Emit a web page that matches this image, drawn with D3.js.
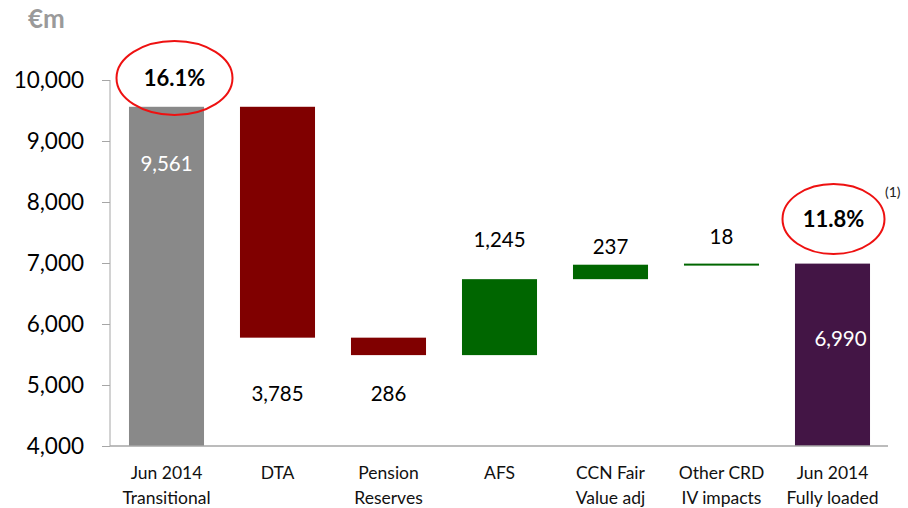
<!DOCTYPE html>
<html>
<head>
<meta charset="utf-8">
<script src="https://cdn.jsdelivr.net/npm/d3@7"></script>
<style>
  body { margin: 0; background: #fff; }
  svg { display: block; font-family: Lato, "Open Sans", sans-serif; }
</style>
</head>
<body>
<script>
// waterfall: transitional -> fully loaded CET1
var categories = [["Jun 2014", "Transitional"], ["DTA"], ["Pension", "Reserves"], ["AFS"],
                  ["CCN Fair", "Value adj"], ["Other CRD", "IV impacts"], ["Jun 2014", "Fully loaded"]];
var changes = [9561, -3785, -286, 1245, 237, 18, 6990];
var kinds = ["total", "step", "step", "step", "step", "step", "total"];
var valueLabels = ["9,561", "3,785", "286", "1,245", "237", "18", "6,990"];
var ratios = ["16.1%", null, null, null, null, null, "11.8%"];
var yTicks = [4000, 5000, 6000, 7000, 8000, 9000, 10000];
var colors = ["#898989", "#800000", "#800000", "#006600", "#006600", "#006600", "#431545"];

var W = 908, H = 508;
var svg = d3.select("body").append("svg").attr("width", W).attr("height", H);

// running totals
var rows = [];
var run = 0;
changes.forEach(function(v, i) {
  var lo, hi;
  if (kinds[i] == "total") { lo = 4000; hi = v; run = v; }
  else { var next = run + v; lo = Math.min(run, next); hi = Math.max(run, next); run = next; }
  rows.push({ i: i, lo: lo, hi: hi, v: v });
});

var x = d3.scaleBand().domain(d3.range(categories.length)).range([111, 888])
  .paddingInner(0.324).paddingOuter(0.162);
var y = d3.scaleLinear().domain([4000, 10000]).range([446, 80]);

// y axis
var yAxis = svg.append("g").attr("transform", "translate(110,0)")
  .call(d3.axisLeft(y).tickValues(yTicks).tickSize(8).tickPadding(18).tickFormat(d3.format(",")));
yAxis.select(".domain").attr("stroke", "#a6a6a6").attr("d", "M0," + y(10000) + "V" + y(4000));
yAxis.selectAll(".tick line").attr("stroke", "#a6a6a6");
yAxis.selectAll(".tick text").attr("font-size", 22.5).attr("fill", "#000").attr("font-family", "Lato");

// bars
svg.selectAll("rect.bar").data(rows).enter().append("rect")
  .attr("class", "bar")
  .attr("x", d => x(d.i))
  .attr("width", x.bandwidth())
  .attr("y", d => y(d.hi))
  .attr("height", d => Math.max(2, y(d.lo) - y(d.hi)))
  .attr("fill", d => colors[d.i]);

// baseline
svg.append("line").attr("x1", 110).attr("x2", 888).attr("y1", y(4000)).attr("y2", y(4000))
  .attr("stroke", "#a6a6a6").attr("stroke-width", 1.5);

// value labels (excel put them a bit unevenly)
var upNudge = { 3: 32, 4: 11, 5: 20 };
svg.selectAll("text.val").data(rows).enter().append("text")
  .attr("class", "val")
  .attr("text-anchor", "middle")
  .attr("font-size", 20.5)
  .attr("x", d => x(d.i) + x.bandwidth() / 2 + (d.i == 6 ? 8 : 0))
  .attr("y", d => {
    if (kinds[d.i] == "total") return d.i == 0 ? y(9000) + 30 : y(6000) + 22;
    if (d.v < 0) return y(4870) + 8;
    return y(d.hi) - upNudge[d.i];
  })
  .attr("fill", d => kinds[d.i] == "total" ? "#fff" : "#000")
  .text(d => valueLabels[d.i]);

// category labels
var cat = svg.selectAll("g.cat").data(categories).enter().append("g")
  .attr("class", "cat")
  .attr("transform", (d, i) => "translate(" + (x(i) + x.bandwidth() / 2) + ",0)");
cat.selectAll("text").data(d => d).enter().append("text")
  .attr("text-anchor", "middle").attr("font-size", 17.5).attr("fill", "#111")
  .attr("y", (d, j) => 479 + j * 25)
  .text(d => d);

// ratio bubbles
var rb = rows.filter(d => ratios[d.i]);
var bub = svg.selectAll("g.bub").data(rb).enter().append("g")
  .attr("transform", d => d.i == 0
    ? "translate(" + (x(d.i) + x.bandwidth() / 2 + 8) + ",78)"
    : "translate(" + (x(d.i) + x.bandwidth() / 2 + 1) + ",219)");
bub.append("ellipse").attr("rx", d => d.i == 0 ? 58 : 51).attr("ry", d => d.i == 0 ? 37 : 35)
  .attr("fill", "none").attr("stroke", "#ee1111").attr("stroke-width", 2);
bub.append("text").attr("text-anchor", "middle").attr("y", 8).attr("font-size", 22)
  .attr("font-weight", "bold").attr("fill", "#000").text(d => ratios[d.i]);

// footnote and unit
svg.append("text").attr("x", 885).attr("y", 197).attr("font-size", 14).attr("fill", "#222").text("(1)");
svg.append("text").attr("x", 28).attr("y", 28).attr("font-size", 26).attr("font-weight", "bold")
  .attr("fill", "#9a9a9a").text("€m");
</script>
</body>
</html>
